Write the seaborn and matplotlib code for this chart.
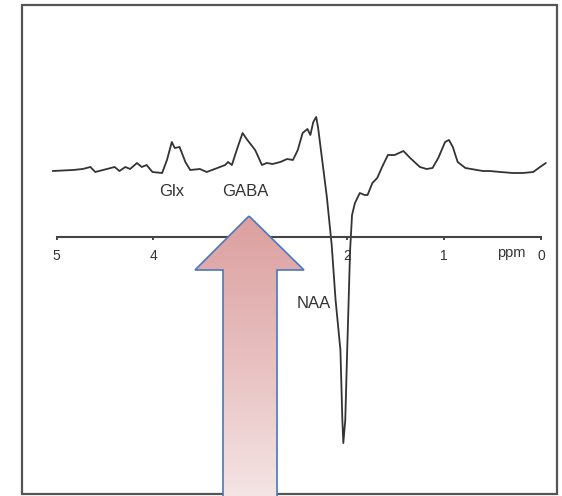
import matplotlib
matplotlib.use("Agg")
import numpy as np
import pandas as pd
import matplotlib.pyplot as plt
from matplotlib.patches import Rectangle, Polygon
from matplotlib.colors import LinearSegmentedColormap
import seaborn as sns

# Edited MR spectrum (chemical shift in ppm, signal in arbitrary units)
ppm = [5.04, 4.83, 4.73, 4.65, 4.60, 4.48, 4.40, 4.35, 4.29, 4.24,
       4.17, 4.12, 4.07, 4.01, 3.91, 3.86, 3.81, 3.78, 3.73, 3.67,
       3.62, 3.52, 3.45, 3.34, 3.26, 3.23, 3.19, 3.14, 3.08, 3.03,
       2.95, 2.88, 2.83, 2.77, 2.69, 2.62, 2.56, 2.51, 2.46, 2.41,
       2.38, 2.35, 2.32, 2.30, 2.21, 2.16, 2.12, 2.07, 2.05, 2.04,
       2.02, 2.00, 1.97, 1.95, 1.92, 1.87, 1.82, 1.79, 1.74, 1.69,
       1.64, 1.58, 1.51, 1.42, 1.35, 1.25, 1.18, 1.12, 1.06, 0.99,
       0.95, 0.91, 0.86, 0.78, 0.66, 0.60, 0.53, 0.42, 0.29, 0.19,
       0.08, 0.01, -0.05]
signal = [0.66, 0.67, 0.68, 0.70, 0.65, 0.68, 0.70, 0.66, 0.70, 0.68,
          0.74, 0.70, 0.72, 0.65, 0.64, 0.77, 0.95, 0.89, 0.90, 0.75,
          0.67, 0.68, 0.65, 0.69, 0.72, 0.75, 0.72, 0.87, 1.04, 0.97,
          0.87, 0.72, 0.74, 0.73, 0.75, 0.78, 0.77, 0.87, 1.04, 1.08,
          1.02, 1.15, 1.20, 1.09, 0.40, -0.08, -0.63, -1.13, -1.83, -2.06,
          -1.83, -1.13, -0.13, 0.22, 0.34, 0.44, 0.42, 0.42, 0.54, 0.59,
          0.70, 0.82, 0.82, 0.86, 0.79, 0.70, 0.68, 0.69, 0.79, 0.95,
          0.97, 0.90, 0.75, 0.69, 0.67, 0.66, 0.66, 0.65, 0.64, 0.64,
          0.65, 0.70, 0.74]

tick_ppm = [5, 4, 3, 2, 1, 0]
tick_labels = ["5", "4", "3", "2", "1", "0"]

peak_names = ["Glx", "GABA", "NAA"]
peak_ppm = [3.81, 3.05, 2.35]
peak_label_y = [0.46, 0.46, -0.66]

sns.set_theme(style="white")
plt.rcParams["font.family"] = ["Liberation Sans", "DejaVu Sans"]

W, H = 562, 496
fig = plt.figure(figsize=(W / 100, H / 100), dpi=100)
fig.patch.set_facecolor("white")

ax = fig.add_axes([0, 0, 1, 1])
ax.patch.set_alpha(0)
ax.set_zorder(0)

df = pd.DataFrame({"ppm": ppm, "signal": signal})
sns.lineplot(data=df, x="ppm", y="signal", sort=False, estimator=None,
             color="#333333", lw=1.3, ax=ax)

# reversed chemical-shift axis, 96.9 px per ppm
ax.set_xlim(5 + 56.5 / 96.9, -21 / 96.9)
ax.set_ylim(-2.59, 2.37)

for side in ["left", "top", "right"]:
    ax.spines[side].set_visible(False)
ax.spines["bottom"].set_position(("data", 0))
ax.spines["bottom"].set_bounds(0, 5)
ax.spines["bottom"].set_color("#444444")
ax.spines["bottom"].set_linewidth(1.5)

ax.set_xticks(tick_ppm)
ax.set_xticklabels(tick_labels)
ax.set_yticks([])
ax.tick_params(axis="x", direction="out", length=2.5, width=1.4,
               color="#444444", pad=6, labelsize=10, labelcolor="#333333",
               bottom=True)
ax.set_xlabel("")
ax.set_ylabel("")

ax.text(0.31, -0.20, "ppm", ha="center", va="baseline", fontsize=10.5,
        color="#333333")

for name, x, y in zip(peak_names, peak_ppm, peak_label_y):
    ax.text(x, y, name, ha="center", va="center", fontsize=12,
            color="#333333")

# outer frame
fig.add_artist(Rectangle((22 / W, 1 - 494 / H), (557 - 22) / W, (494 - 5) / H,
                         transform=fig.transFigure, fill=False,
                         ec="#555555", lw=1.6, zorder=1))

# highlight arrow pointing at the GABA region
ov = fig.add_axes([0, 0, 1, 1])
ov.set_zorder(3)
ov.patch.set_alpha(0)
ov.set_xlim(0, W)
ov.set_ylim(H, 0)
ov.axis("off")

arrow_xy = [(249, 216), (304, 270), (277, 270), (277, 505),
            (223, 505), (223, 270), (195, 270)]
shape = Polygon(arrow_xy, closed=True, fc="none", ec="none")
ov.add_patch(shape)
cmap = LinearSegmentedColormap.from_list(
    "pinkfade", ["#dc9f9f", "#e8c0c0", "#f5e7e7"])
grad = np.linspace(0, 1, 256).reshape(-1, 1)
im = ov.imshow(grad, cmap=cmap, extent=[195, 304, 505, 216],
               aspect="auto", origin="upper", interpolation="bilinear")
im.set_clip_path(shape)
ov.add_patch(Polygon(arrow_xy, closed=True, fc="none", ec="#4a78c0",
                     lw=1.2, joinstyle="miter"))
ov.set_xlim(0, W)
ov.set_ylim(H, 0)

fig.savefig("out.png", dpi=100)
